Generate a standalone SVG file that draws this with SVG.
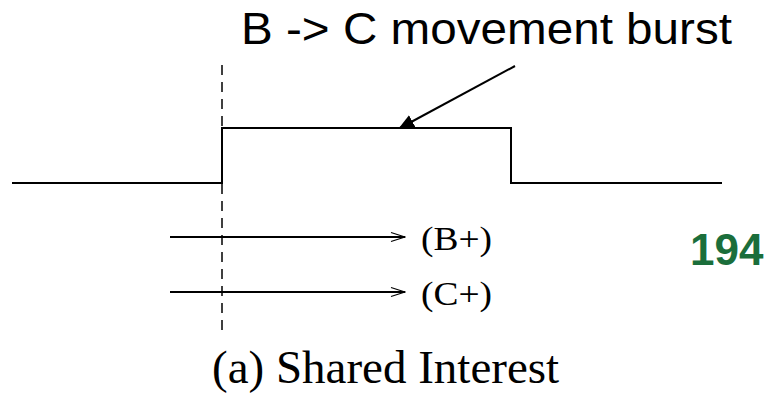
<svg xmlns="http://www.w3.org/2000/svg" width="771" height="393" viewBox="0 0 771 393">
<style>
.ln{stroke:#000;stroke-width:2;fill:none}
.tm{font-family:"Liberation Serif","Times New Roman",serif;fill:#000}
.ar{font-family:"Liberation Sans",Arial,sans-serif;fill:#000}
</style>
<defs>
<marker id="open" markerWidth="16" markerHeight="12" refX="15" refY="6" orient="auto" markerUnits="userSpaceOnUse">
<path d="M1,1.5 L15,6 L1,10.5" fill="none" stroke="#000" stroke-width="1.3"/>
</marker>
<marker id="fill" markerWidth="16" markerHeight="16" refX="14" refY="8" orient="auto" markerUnits="userSpaceOnUse">
<path d="M0,1 L16,8 L0,15 Z" fill="#000"/>
</marker>
</defs>
<rect width="771" height="393" fill="#fff"/>
<g id="signal">
<polyline class="ln" points="12,183 222,183 222,128 511,128 511,183 722,183"/>
<line x1="222" y1="65" x2="222" y2="332" stroke="#000" stroke-width="1.5" stroke-dasharray="10,7"/>
</g>
<g id="connectors">
<line class="ln" x1="515" y1="66" x2="400" y2="128" marker-end="url(#fill)"/>
<line class="ln" x1="170" y1="237" x2="405" y2="237" marker-end="url(#open)"/>
<line class="ln" x1="170" y1="292" x2="405" y2="292" marker-end="url(#open)"/>
</g>
<g id="title"><text class="ar" x="241" y="44" font-size="44" textLength="491" lengthAdjust="spacingAndGlyphs">B -&gt; C movement burst</text></g>
<g id="bplus"><text class="tm" x="421" y="250" font-size="33" textLength="71" lengthAdjust="spacingAndGlyphs">(B+)</text></g>
<g id="cplus"><text class="tm" x="421" y="305" font-size="33" textLength="71" lengthAdjust="spacingAndGlyphs">(C+)</text></g>
<g id="caption"><text class="tm" x="212" y="383" font-size="47">(a) Shared Interest</text></g>
<g id="pagenum"><text x="690" y="265" font-family="Liberation Sans,Arial,sans-serif" font-weight="bold" font-size="44" fill="#1b6e3b">194</text></g>
</svg>
